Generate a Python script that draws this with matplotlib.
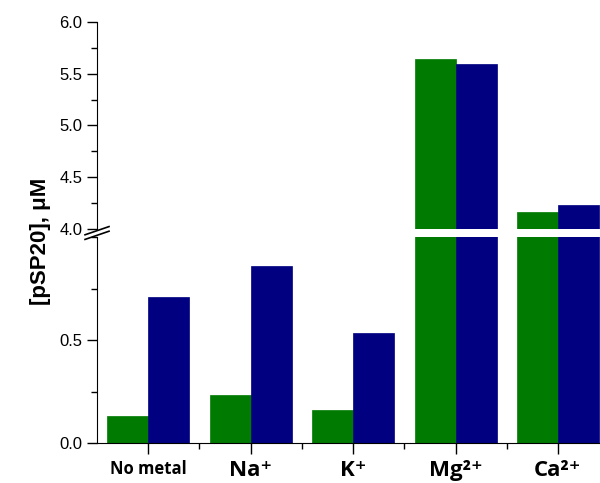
import numpy as np
import matplotlib.pyplot as plt
from matplotlib.ticker import MultipleLocator

plt.rcParams['font.family'] = ['Liberation Sans', 'DejaVu Sans']

metals = ['No metal', 'Na⁺', 'K⁺', 'Mg²⁺', 'Ca²⁺']
green_vals = [0.13, 0.233, 0.16, 5.64, 4.16]
blue_vals = [0.71, 0.86, 0.534, 5.59, 4.23]

green = '#007a00'
blue = '#000080'

fig = plt.figure(figsize=(6, 4.83), dpi=100)
ax_lo = fig.add_axes([0.1617, 0.0828, 0.84, 0.4265])
ax_hi = fig.add_axes([0.1617, 0.5259, 0.84, 0.4286])

x = np.arange(len(metals))
w = 0.4
for ax in (ax_lo, ax_hi):
    ax.bar(x - w / 2, green_vals, w, color=green, edgecolor=green, linewidth=0.5)
    ax.bar(x + w / 2, blue_vals, w, color=blue, edgecolor=blue, linewidth=0.5)
    ax.set_xlim(-0.5, 4.42)
    ax.spines['top'].set_visible(False)
    ax.spines['right'].set_visible(False)
    ax.tick_params(axis='y', direction='out', length=7, width=1, labelsize=12)
    ax.tick_params(axis='y', which='minor', direction='out', length=4, width=1)

ax_lo.set_ylim(0, 1.0)
ax_lo.yaxis.set_minor_locator(MultipleLocator(0.25))
ax_lo.set_yticks([0.0, 0.5])
ax_lo.set_yticklabels(['0.0', '0.5'])

ax_hi.set_ylim(4.0, 6.0)
ax_hi.yaxis.set_major_locator(MultipleLocator(0.5))
ax_hi.yaxis.set_minor_locator(MultipleLocator(0.25))
ax_hi.yaxis.set_major_formatter(plt.FormatStrFormatter('%.1f'))
ax_hi.spines['bottom'].set_visible(False)
ax_hi.tick_params(axis='x', which='both', bottom=False, labelbottom=False)

ax_lo.set_xticks(x)
ax_lo.set_xticks(x[:-1] + 0.5, minor=True)
ax_lo.tick_params(axis='x', direction='out', length=8, width=1, pad=4)
ax_lo.tick_params(axis='x', which='minor', direction='out', length=4, width=1)
ax_lo.set_xticklabels(metals, fontsize=16, fontweight='bold', family=['Open Sans', 'DejaVu Sans'])
ax_lo.get_xticklabels()[0].set_fontsize(12)

# break marks on the y axis
kw = dict(color='k', clip_on=False, linewidth=1.2)
x0 = ax_lo.get_position().x0
y_lo = ax_lo.get_position().y1
y_hi = ax_hi.get_position().y0
fig.add_artist(plt.Line2D([x0 - 0.02, x0 + 0.02], [y_lo - 0.005, y_lo + 0.012], **kw))
fig.add_artist(plt.Line2D([x0 - 0.02, x0 + 0.02], [y_hi - 0.012, y_hi + 0.005], **kw))

fig.text(0.068, 0.5, '[pSP20], μM', rotation=90, fontsize=16, fontweight='bold',
         ha='center', va='center')

fig.savefig('out.png', dpi=100)
